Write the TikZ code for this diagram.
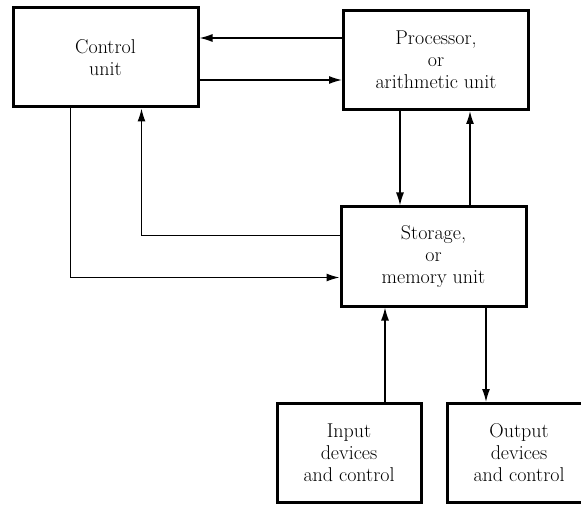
\documentclass[tikz,border=0pt]{standalone}
\usepackage{fontspec}
\usetikzlibrary{arrows.meta}

\tikzstyle{unit} = [draw,line width=3pt,minimum width=185pt,minimum height=99pt,align=center,font=\fontsize{20}{22}\selectfont]
\tikzstyle{device} = [unit,minimum width=144pt]
\tikzstyle{link} = [->,>={Latex[length=13pt,width=8pt]},line width=1.4pt]

\begin{document}
\begin{tikzpicture}[x=1pt,y=1pt]
		\useasboundingbox (0,0) rectangle (581,504);
		\node[unit] (ctrl) at (105.5,446.5) {Control\\unit};
		\node[unit] (proc) at (436,444) {Processor,\\or\\arithmetic unit};
		\node[unit] (mem) at (433.5,247.5) {Storage,\\or\\memory unit};
		\node[device] (inp) at (349,51) {Input\\devices\\and control};
		\node[device] (outp) at (519,51) {Output\\devices\\and control};
		\draw[link] ([yshift=22pt]proc.west) -- ([yshift=22pt]proc.west -| ctrl.east);
		\draw[link] ([yshift=-20pt]proc.west -| ctrl.east) -- ([yshift=-20pt]proc.west);
		\draw[link] ([xshift=-36pt]proc.south) -- ([xshift=-36pt]proc.south |- mem.north);
		\draw[link] ([xshift=34pt]proc.south |- mem.north) -- ([xshift=34pt]proc.south);
		\draw[link] ([yshift=21pt]mem.west) -| ([xshift=36pt]ctrl.south);
		\draw[link] ([xshift=-35pt]ctrl.south) |- ([yshift=-21pt]mem.west);
		\draw[link] ([xshift=36pt]inp.north) -- ([xshift=36pt]inp.north |- mem.south);
		\draw[link] ([xshift=-33pt]outp.north |- mem.south) -- ([xshift=-33pt]outp.north);
\end{tikzpicture}
\end{document}
